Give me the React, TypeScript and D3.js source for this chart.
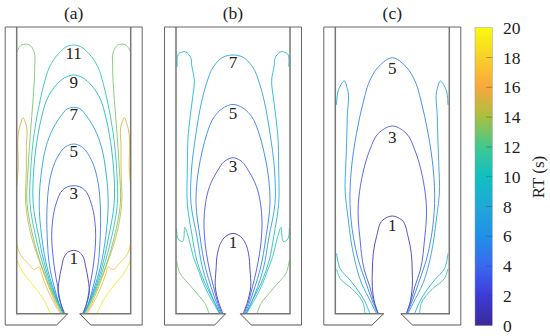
import React from 'react';
import * as d3 from 'd3';

type Pt = [number, number];

// every profile is [half width, height above the floor]
const a1: Pt[] = [[0, 63.3], [5, 62], [9, 57.7], [12, 47], [14.5, 33.7], [15.5, 20.3], [13, 10.3], [9, 0]];
const a3: Pt[] = [[0, 128], [6, 127], [11, 123.7], [17.5, 110.3], [21, 93.7], [22, 77], [21, 60.3], [19, 43.7], [16, 27], [13, 10.3], [9.7, 0]];
const a5: Pt[] = [[0, 169.7], [8, 167], [16, 157], [21.5, 143.7], [25, 127], [26.5, 110], [26.5, 77], [23.5, 43.7], [19.5, 27], [14.7, 10.3], [10, 0]];
const a7: Pt[] = [[0, 206.3], [6, 205], [13.3, 197], [23, 180.3], [28.5, 163.7], [32, 143.7], [34.5, 110.3], [32, 77], [26, 43.7], [21, 27], [15, 10.3], [10, 0]];
const a9: Pt[] = [[0, 238.7], [7, 237], [16, 230.3], [27, 213.7], [32, 197], [35.5, 180.3], [38, 163.7], [40, 143.7], [40.5, 110.3], [35, 77], [27.5, 43.7], [22, 27], [15.3, 10.3], [10.3, 0]];
const a11: Pt[] = [[0, 268.7], [7, 267], [15, 260.3], [24, 247], [29.5, 230.3], [33.5, 213.7], [39.5, 180.3], [43, 143.7], [43.7, 110.3], [38, 77], [29, 43.7], [23, 27], [16, 10.3], [10.7, 0]];
const a13: Pt[] = [[56.7, 262], [52.3, 268.7], [44, 268.7], [39.7, 262], [39, 247], [40.7, 213.7], [43.3, 180.3], [45.7, 143.7], [46.7, 110.3], [40.7, 77], [30.7, 43.7], [24, 27], [16.7, 10.3], [11.5, 0]];
const a15: Pt[] = [[56.7, 128.7], [55.7, 143.7], [53, 190.3], [50.7, 196], [48, 190.3], [47.3, 167], [47.3, 143.7], [48, 110.3], [42.3, 77], [32.3, 47], [25, 27], [18, 10.3], [12.5, 0]];
const a17: Pt[] = [[57, 70.3], [54, 60.3], [45.7, 50.3], [39, 44.3], [34.7, 47], [32.3, 40.3], [26, 23.7], [19.5, 10.3], [13.5, 0]];
const a19: Pt[] = [[56.7, 53.7], [52.3, 43.7], [40.7, 28.7], [30.7, 15.3], [23.3, 0]];

const b1: Pt[] = [[0, 80.3], [7.7, 77], [12.5, 70.3], [15.5, 60.3], [17, 43.7], [17.7, 27], [14, 10.3], [10, 0]];
const b3: Pt[] = [[0, 156], [9, 152], [15, 143.7], [23.5, 127], [27.5, 110.3], [29, 93.7], [28.5, 77], [23.5, 43.7], [19.5, 27], [15, 10.3], [11, 0]];
const b5: Pt[] = [[0, 209.3], [11, 205], [18.7, 197], [26, 180.3], [30.5, 163.7], [34.5, 143.7], [37, 110.3], [33, 77], [27, 43.7], [22, 27], [16.3, 10.3], [12, 0]];
const b7: Pt[] = [[0, 258.7], [9, 257], [19.5, 247], [26.5, 230.3], [31, 213.7], [37, 180.3], [41.5, 143.7], [42, 110.3], [36, 77], [30, 43.7], [24.7, 27], [18, 10.3], [13, 0]];
const b9: Pt[] = [[55.7, 247], [54, 260.3], [48, 262], [42, 255.3], [41.3, 248.7], [38.7, 233.7], [40.7, 213.7], [44.7, 180.3], [45.7, 143.7], [45.7, 110.3], [40.7, 77], [36.3, 53.7], [28, 30.3], [19.7, 13.7], [13, 0]];
const b11: Pt[] = [[56.3, 85.3], [54, 73.7], [51.3, 72], [48, 86.3], [44.7, 77], [39.7, 57], [34.7, 43.7], [29, 28.7], [20.5, 12], [13.5, 0]];
const b13: Pt[] = [[56.3, 53], [53, 40.3], [44.7, 30.3], [34.7, 18.7], [28, 10.3], [24, 0]];

const c1: Pt[] = [[0, 97.7], [9.5, 93.7], [15.8, 77], [19, 60.3], [19.9, 43.7], [20, 27], [17.5, 10.3], [14, 0]];
const c3: Pt[] = [[0, 187.7], [14, 180.3], [22.5, 163.7], [28.7, 143.7], [32, 127], [34, 110.3], [34, 93.7], [32.5, 77], [28, 43.7], [22.5, 27], [18, 10.3], [14, 0]];
const c5: Pt[] = [[0, 256], [13.7, 247], [23.7, 230.3], [28.5, 213.7], [35.8, 180.3], [41, 143.7], [42.3, 110.3], [39, 77], [34, 53.7], [27.3, 33.7], [19, 10.3], [14.7, 0]];
const c7: Pt[] = [[55.7, 208.7], [53.3, 225.3], [48, 232.7], [45, 225.3], [45, 197], [46.7, 143.7], [47.3, 127], [44, 93.7], [39, 60.3], [30.7, 30.3], [20.7, 10.3], [15.7, 0]];
const c9: Pt[] = [[55.7, 60.3], [52.3, 45.3], [42.3, 33.7], [27.3, 12], [22.3, 0]];
const c11: Pt[] = [[55.7, 44.7], [52.3, 35.3], [40.7, 25.3], [29, 10.3], [27.3, 0]];

const barTicks = [0, 2, 4, 6, 8, 10, 12, 14, 16, 18, 20];
const colorStops = [0, 2, 4, 6, 8, 10, 12, 14, 16, 18, 20];
const colorValues = ['#3b2a98', '#3d3ad8', '#3a68f0', '#2090e8', '#20a8d8', '#10c0c0', '#40c890', '#a8c040', '#f8a83c', '#f8d028', '#f8fa10'];

const color = d3.scaleLinear<string>().domain(colorStops).range(colorValues);

const panels = [
  {
    title: '(a)', cx: 73.7, throat: 6, foot: 17,
    domes: [[1, a1], [3, a3], [5, a5], [7, a7], [9, a9], [11, a11]] as [number, Pt[]][],
    pockets: [[13, a13], [15, a15], [17, a17], [19, a19]] as [number, Pt[]][],
    labels: [['11', 53], ['9', 82], ['7', 114], ['5', 151], ['3', 193], ['1', 258]] as [string, number][],
  },
  {
    title: '(b)', cx: 233, throat: 7.3, foot: 18.3,
    domes: [[1, b1], [3, b3], [5, b5], [7, b7]] as [number, Pt[]][],
    pockets: [[9, b9], [11, b11], [13, b13]] as [number, Pt[]][],
    labels: [['7', 62], ['5', 113], ['3', 166], ['1', 242]] as [string, number][],
  },
  {
    title: '(c)', cx: 392.3, throat: 8.6, foot: 20.2,
    domes: [[1, c1], [3, c3], [5, c5]] as [number, Pt[]][],
    pockets: [[7, c7], [9, c9], [11, c11]] as [number, Pt[]][],
    labels: [['5', 68], ['3', 137], ['1', 225]] as [string, number][],
  },
];

const font = '"Liberation Serif", serif';
const wall = 57;
const outer = 68.5;
const floorY = 313.7;
const topY = 27;
const lip = -11.3;

function Panel({ p }: { p: (typeof panels)[number] }) {
  const x = d3.scaleLinear().domain([-wall, wall]).range([p.cx - wall, p.cx + wall]);
  const y = d3.scaleLinear().domain([0, floorY - topY]).range([floorY, topY]);
  const path = d3.line<Pt>().x(d => x(d[0])).y(d => y(d[1])).curve(d3.curveCatmullRom.alpha(1));
  const straight = d3.line<Pt>().x(d => x(d[0])).y(d => y(d[1]));
  const H = floorY - topY;
  const mirror = (pts: Pt[]) => pts.map(d => [-d[0], d[1]] as Pt);

  return (
    <g>
      <text x={p.cx} y={19} textAnchor="middle" fontSize={17.5} fontFamily={font} fill="#222">{p.title}</text>
      {p.domes.map(([rt, pts]) => (
        <path key={rt} d={path([...mirror(pts).reverse(), ...pts.slice(1)])!} fill="none" stroke={color(rt)} strokeOpacity={0.85} strokeWidth={1} />
      ))}
      {p.pockets.map(([rt, pts]) => (
        <g key={rt}>
          <path d={path(pts)!} fill="none" stroke={color(rt)} strokeOpacity={0.85} strokeWidth={1} />
          <path d={path(mirror(pts))!} fill="none" stroke={color(rt)} strokeOpacity={0.85} strokeWidth={1} />
        </g>
      ))}
      <path d={straight([[-wall, H], [-wall, 0], [-p.throat, 0]])!} fill="none" stroke="#777" strokeWidth={1.5} />
      <path d={straight([[p.throat, 0], [wall, 0], [wall, H]])!} fill="none" stroke="#777" strokeWidth={1.5} />
      <path d={straight([[-outer, lip], [-outer, H], [outer, H], [outer, lip]])!} fill="none" stroke="#666" strokeWidth={1} />
      <path d={straight([[-outer, lip], [-p.foot, lip], [-p.throat, 0]])!} fill="none" stroke="#555" strokeWidth={1} />
      <path d={straight([[outer, lip], [p.foot, lip], [p.throat, 0]])!} fill="none" stroke="#555" strokeWidth={1} />
      {p.labels.map(([t, ly]) => (
        <text key={t} x={p.cx} y={ly} dy=".35em" textAnchor="middle" fontSize={17} fontFamily={font} fill="#222">{t}</text>
      ))}
    </g>
  );
}

function ColorBar() {
  const barX = 475;
  const barW = 17.3;
  const yScale = d3.scaleLinear().domain([0, 20]).range([325.7, 27.7]);
  return (
    <g>
      <defs>
        <linearGradient id="rt" x1="0" y1="1" x2="0" y2="0">
          {colorStops.map((s, i) => (
            <stop key={s} offset={s / 20} stopColor={colorValues[i]} />
          ))}
        </linearGradient>
      </defs>
      <rect x={barX} y={yScale(20)} width={barW} height={yScale(0) - yScale(20)} fill="url(#rt)" stroke="#999" strokeWidth={0.5} />
      {barTicks.map(t => (
        <g key={t}>
          {t > 0 && t < 20 && <line x1={barX + barW - 6} x2={barX + barW} y1={yScale(t)} y2={yScale(t)} stroke="#444" strokeOpacity={0.6} strokeWidth={0.7} />}
          <text x={503} y={yScale(t)} dy=".35em" fontSize={17.5} fontFamily={font} fill="#222">{t}</text>
        </g>
      ))}
      <text transform="translate(538,177) rotate(-90)" dy=".33em" textAnchor="middle" fontSize={17} fontFamily={font} fill="#222">RT (s)</text>
    </g>
  );
}

export default function App() {
  return (
    <svg width={550} height={336} style={{ position: 'absolute', left: 0, top: 0, background: '#fff' }}>
      {panels.map(p => <Panel key={p.title} p={p} />)}
      <ColorBar />
    </svg>
  );
}
